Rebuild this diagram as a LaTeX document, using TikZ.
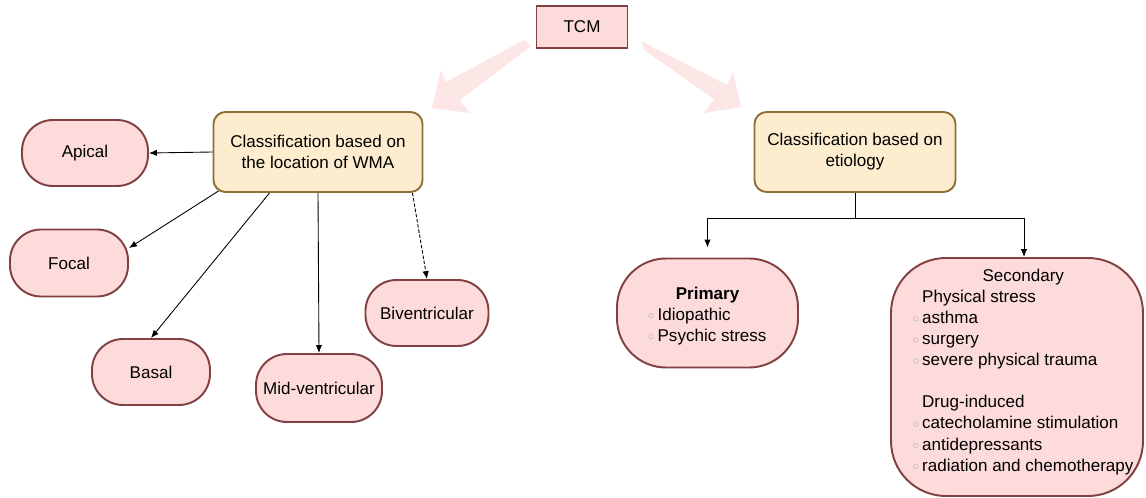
\documentclass[tikz,border=0pt]{standalone}
\usepackage{fontspec}
\setmainfont{Liberation Sans}
\usetikzlibrary{arrows.meta}

\definecolor{pinkfill}{RGB}{253,219,219}
\definecolor{pinkdraw}{RGB}{130,64,64}
\definecolor{sandfill}{RGB}{253,236,206}
\definecolor{sanddraw}{RGB}{140,112,52}
\definecolor{fatpink}{RGB}{253,230,230}

\newcommand{\bul}{\makebox[5.2pt][l]{\tikz[baseline=0pt]\draw[gray!50,line width=0.35pt] (0,0.52ex) circle (1.3pt);}}
\newcommand{\nob}{\hspace*{5.2pt}}

\begin{document}
\begin{tikzpicture}[font=\fontsize{9.7}{12}\selectfont,
  pill/.style={draw=pinkdraw,fill=pinkfill,line width=1.1pt,rounded corners=0.62cm,minimum width=2.5cm,minimum height=1.32cm},
  classbox/.style={draw=sanddraw,fill=sandfill,line width=1.1pt,rounded corners=0.24cm,minimum height=1.6cm,align=center},
  link/.style={line width=0.5pt,-{Latex[length=4.5pt,width=3.6pt]}}]
\useasboundingbox (0,0) rectangle (22.92,-9.96);

% the two big arrows
\fill[fatpink] (10.48,-0.8) -- (8.92,-1.64) -- (8.82,-1.4) -- (8.64,-2.16) -- (9.4,-2.26) -- (9.2,-2.0) -- (10.62,-0.92) -- cycle;
\fill[fatpink] (12.82,-0.82) -- (14.54,-1.7) -- (14.66,-1.44) -- (14.82,-2.14) -- (14.08,-2.26) -- (14.28,-1.98) -- (12.88,-1.0) -- cycle;

\node[draw=pinkdraw,fill=pinkfill,line width=1.1pt,minimum width=1.82cm,minimum height=0.84cm] (tcm) at (11.64,-0.54) {TCM};

\node[classbox,minimum width=4.18cm] (loc) at (6.36,-3.04) {Classification based on\\the location of WMA};
\node[classbox,minimum width=4.02cm] (eti) at (17.1,-3.04) {Classification based on\\etiology};

\node[pill,minimum width=2.52cm] (apical) at (1.7,-3.06) {Apical};
\node[pill,minimum width=2.36cm,minimum height=1.34cm] (focal) at (1.38,-5.26) {Focal};
\node[pill,minimum width=2.36cm] (basal) at (3.02,-7.44) {Basal};
\node[pill,minimum width=2.52cm,minimum height=1.36cm] (mid) at (6.38,-7.76) {Mid-ventricular};
\node[pill,minimum width=2.46cm] (biv) at (8.54,-6.26) {Biventricular};

\node[pill,rounded corners=0.98cm,minimum width=3.62cm,minimum height=2.18cm] (primary) at (14.15,-6.26)
  {\raisebox{0pt}[\dimexpr\height+0.12cm\relax][\depth]{\begin{tabular}{@{}l@{}}\multicolumn{1}{@{}c@{}}{\textbf{Primary}}\\\bul Idiopathic\\\bul Psychic stress\end{tabular}}};
\node[pill,rounded corners=1.1cm,minimum width=5.04cm,minimum height=4.76cm] (secondary) at (20.34,-7.54)
  {\hspace*{0.25cm}\raisebox{0pt}[\height][\dimexpr\depth+0.2cm\relax]{\begin{tabular}{@{}l@{}}\multicolumn{1}{@{}c@{}}{Secondary}\\
  \nob Physical stress\\\bul asthma\\\bul surgery\\\bul severe physical trauma\\ \\
  \nob Drug-induced\\\bul catecholamine stimulation\\\bul antidepressants\\\bul radiation and chemotherapy\end{tabular}}};

\draw[link] (loc.west) -- (apical.east);
\draw[link] ([xshift=0.12cm,yshift=0.04cm]loc.south west) -- ([yshift=0.3cm]focal.east);
\draw[link] ([xshift=1.14cm]loc.south west) -- (basal.north);
\draw[link] (loc.south) -- (mid.north);
\draw[link,dash pattern=on 2pt off 1pt] ([xshift=-0.22cm]loc.south east) -- (biv.north);

\coordinate (fork) at ([yshift=-0.5cm]eti.south);
\draw[line width=0.5pt] (eti.south) -- (fork);
\draw[link] (fork) -| ([yshift=0.2cm]primary.north);
\draw[link] (fork) -| ([xshift=0.14cm]secondary.north);
\end{tikzpicture}
\end{document}
